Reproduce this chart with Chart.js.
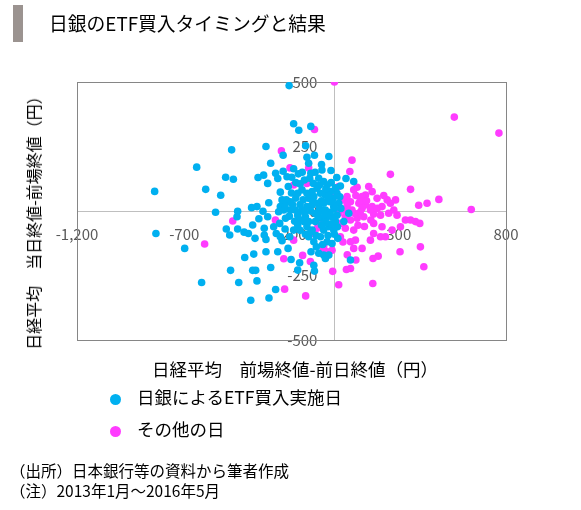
<!DOCTYPE html>
<html>
<head>
<meta charset="utf-8">
<script src="https://cdn.jsdelivr.net/npm/chart.js@4.4.1/dist/chart.umd.min.js"></script>
<style>
  html, body { margin: 0; padding: 0; background: #fff; }
  body { width: 581px; height: 510px; position: relative; overflow: hidden;
         font-family: "Noto Sans CJK JP", "Noto Sans", sans-serif; color: #000; }
  #chart { position: absolute; left: 0; top: 0; }
  .abs { position: absolute; white-space: nowrap; }
  #bar { left: 13px; top: 5px; width: 10px; height: 37px; background: #9b9390; }
  #title { left: 49px; top: 11px; font-size: 18.8px; line-height: 24px; }
  #ytitle { left: 33px; top: 219px; font-size: 16px; line-height: 18px;
            transform: translate(-50%, -50%) rotate(-90deg); }
  #xtitle { left: 295px; top: 369px; font-size: 17.5px; line-height: 20px; transform: translate(-50%, -50%); }
  .leg { left: 110px; font-size: 17.5px; line-height: 20px; }
  .leg i { display: inline-block; width: 11px; height: 11px; border-radius: 50%;
           margin-right: 16px; vertical-align: -1px; }
  .note { left: 10px; font-size: 15.5px; line-height: 20px; }
</style>
</head>
<body>
<canvas id="chart" width="581" height="510"></canvas>
<div class="abs" id="bar"></div>
<div class="abs" id="title">日銀のETF買入タイミングと結果</div>
<div class="abs" id="ytitle">日経平均　当日終値-前場終値（円）</div>
<div class="abs" id="xtitle">日経平均　前場終値-前日終値（円）</div>
<div class="abs leg" id="leg0" style="top:387px"></div>
<div class="abs leg" id="leg1" style="top:419px"></div>
<div class="abs note" style="top:460px">（出所）日本銀行等の資料から筆者作成</div>
<div class="abs note" style="top:480px">（注）2013年1月～2016年5月</div>
<script>
// 前場終値-前日終値 (x) / 当日終値-前場終値 (y), 円
const seriesNames = ["日銀によるETF買入実施日", "その他の日"];
const seriesColors = ["#00b0f0", "#ff3cff"];
const xTicks = [-1200, -700, -200, 300, 800];
const yTicks = [-500, -250, 0, 250, 500];

const etfDays = [
  [-211,486],[-190,338],[-166,313],[-110,328],[-319,250],[-479,237],[-642,170],[-838,76],
  [-832,-87],[-698,-145],[-619,-277],[-600,84],[-530,61],[-507,131],[-471,123],[-554,-5],
  [-451,-1],[-454,-22],[-504,-70],[-488,-93],[-451,-70],[-421,-82],[-401,-87],[-418,-180],
  [-484,-230],[-446,-277],[-390,-346],[-381,-230],[-367,-230],[-376,-167],[-361,-271],[-305,-337],
  [-274,-304],[-297,-219],[-264,-158],[-319,-158],[-319,-110],[-327,-93],[-370,-106],[-381,-54],
  [-386,13],[-361,17],[-352,-30],[-333,-1],[-311,-22],[-327,-67],[-306,32],[-356,130],
  [-330,139],[-311,107],[-297,185],[-274,146],[-264,126],[-239,216],[-239,154],[-221,133],
  [-199,131],[-190,164],[-168,144],[-252,73],[-244,43],[-224,43],[-205,36],[-252,17],
  [-236,4],[-260,-3],[-205,4],[-182,4],[-228,-28],[-255,-48],[-283,-61],[-271,-87],
  [-252,-100],[-244,-115],[-216,-145],[-202,-188],[-162,-201],[-171,-229],[-208,-100],[-190,-74],
  [-171,-54],[-156,-35],[-135,-22],[-128,-61],[-104,-74],[-120,-100],[-96,-119],[-84,-139],
  [-109,-158],[-73,-164],[-50,-171],[-26,-171],[-42,-184],[-34,-119],[-11,-126],[16,-106],
  [14,-61],[-3,-74],[44,-41],[-96,-210],[-93,-233],[75,-190],[67,-9],[54,126],
  [90,114],[28,97],[11,130],[-16,157],[-26,211],[-58,159],[-93,216],[-128,208],
  [-134,253],[-120,185],[-110,146],[-115,127],[-98,107],[-73,127],[-50,114],[-34,101],
  [-81,88],[-104,75],[-128,69],[-151,82],[-171,69],[-146,43],[-120,49],[-96,56],
  [-65,69],[-42,62],[-19,75],[-6,49],[12,69],[-22,36],[-50,30],[-81,30],
  [-104,23],[-128,17],[-151,4],[-171,-16],[-143,-41],[-120,-41],[-89,-41],[-62,-28],
  [-34,-22],[-11,-22],[12,-16],[-50,-74],[-26,-61],[-65,-100],[-42,4],[-73,-3],
  [-3,17],[20,30],
  [-60,40],[-30,50],[-10,35],[0,10],[-20,-5],[-45,-10],[-70,10],[-90,-10],
  [-110,0],[-140,-5],[-160,25],[-180,50],[-200,70],[-215,95],[-160,105],[-140,120],
  [-90,150],[-70,100],[-40,85],[-15,110],[5,90],[25,55],[30,10],[5,-40],
  [-15,-50],[-40,-45],[-60,-55],[-85,-95],[-110,-80],[-135,-90],[-160,-75],[-185,-40],
  [-210,-20],[-230,20],[-195,25],[-100,40],[-75,-25],[-55,-130],[-30,-95],[0,-90],
  [-180,110],[-150,150],[-60,180],[-230,-70]
];

const otherDays = [
  [0,500],[-93,316],[-247,233],[-207,167],[-120,167],[82,197],[72,153],[261,142],
  [559,364],[767,302],[638,6],[487,45],[432,30],[393,22],[355,84],[285,43],
  [246,43],[222,17],[261,30],[176,75],[145,62],[129,56],[106,92],[90,82],
  [59,56],[36,43],[75,36],[114,30],[145,23],[176,17],[199,49],[183,-12],
  [215,-16],[253,-9],[292,-16],[331,-35],[355,-35],[378,-41],[398,-48],[308,-61],
  [269,-74],[222,-61],[183,-48],[183,-87],[215,-100],[238,-100],[168,-113],[129,-145],
  [90,-145],[75,-119],[98,-113],[51,-67],[90,-74],[51,-22],[75,-35],[106,-28],
  [137,-22],[44,4],[20,-9],[28,-48],[401,-139],[306,-158],[204,-175],[180,-184],
  [417,-216],[75,-223],[56,-227],[-8,-234],[20,-286],[179,-281],[-134,-329],[-232,-303],
  [-236,-185],[-148,-172],[-112,-196],[-190,-113],[-275,-35],[-474,-39],[-605,-128],[-53,-153],
  [-34,-158],[-11,-152],[-50,-139],[-81,-67],[-96,-87],[-65,-48],[-190,101],[-128,107],
  [28,-100],[-3,56],[20,95],[59,17],[82,4],[168,4],[277,4],[129,10],
  [60,30],[100,60],[120,40],[150,40],[170,-35],[140,-60],[110,-55],[95,-10],
  [120,-5],[200,10],[230,60],[160,95],[40,-120],[60,-170],[100,-190]
];

const toPoints = arr => arr.map(p => ({ x: p[0], y: p[1] }));

// frame + zero lines, drawn below the dots
const framePlugin = {
  id: "frame",
  beforeDatasetsDraw(chart) {
    const { ctx, chartArea: a, scales } = chart;
    const x0 = Math.round(scales.x.getPixelForValue(0)) + 0.5;
    const y0 = Math.round(scales.y.getPixelForValue(0)) + 0.5;
    ctx.save();
    ctx.lineWidth = 1;
    ctx.strokeStyle = "#bfbfbf";
    ctx.beginPath();
    ctx.moveTo(a.left, y0); ctx.lineTo(a.right, y0);
    ctx.moveTo(x0, a.top); ctx.lineTo(x0, a.bottom);
    ctx.stroke();
    ctx.strokeStyle = "#868686";
    ctx.strokeRect(Math.round(a.left) + 0.5, Math.round(a.top) + 0.5,
                   Math.round(a.right - a.left), Math.round(a.bottom - a.top));
    ctx.restore();
  }
};

const tickFont = { family: "'Noto Sans CJK JP', 'Noto Sans', sans-serif", size: 15 };
// y labels sit 17px left of the x = 0 line
const yLabelShift = -17 * 2000 / 429;

new Chart(document.getElementById("chart").getContext("2d"), {
  type: "scatter",
  data: {
    datasets: [
      { label: seriesNames[0], data: toPoints(etfDays), backgroundColor: seriesColors[0],
        pointRadius: 3.8, pointBorderWidth: 0, pointHoverRadius: 3.8 },
      { label: seriesNames[1], data: toPoints(otherDays), backgroundColor: seriesColors[1],
        pointRadius: 3.8, pointBorderWidth: 0, pointHoverRadius: 3.8 }
    ]
  },
  options: {
    responsive: false,
    animation: false,
    layout: { padding: { left: 77, top: 82, right: 75, bottom: 170 } },
    plugins: { legend: { display: false }, tooltip: { enabled: false } },
    scales: {
      x: {
        type: "linear", min: -1200, max: 800, position: { y: 0 }, z: 1,
        grid: { display: false, drawTicks: false },
        border: { display: false },
        afterBuildTicks: s => { s.ticks = xTicks.map(v => ({ value: v })); },
        afterFit: s => { s.height = 0; },
        ticks: { font: tickFont, color: "#595959", padding: 14, maxRotation: 0, autoSkip: false }
      },
      y: {
        type: "linear", min: -500, max: 500, position: { x: yLabelShift }, z: 1,
        grid: { display: false, drawTicks: false },
        border: { display: false },
        afterBuildTicks: s => { s.ticks = yTicks.map(v => ({ value: v })); },
        afterFit: s => { s.width = 0; },
        ticks: { font: tickFont, color: "#595959", padding: 0, autoSkip: false }
      }
    }
  },
  plugins: [framePlugin]
});

seriesNames.forEach((name, i) => {
  const el = document.getElementById("leg" + i);
  el.innerHTML = '<i style="background:' + seriesColors[i] + '"></i>' + name;
});
</script>
</body>
</html>
